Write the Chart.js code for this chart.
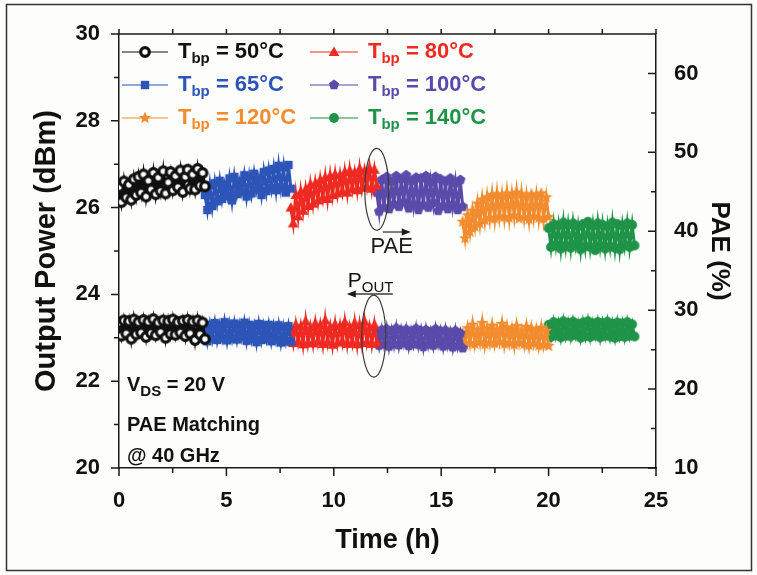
<!DOCTYPE html>
<html>
<head>
<meta charset="utf-8">
<script src="https://cdn.jsdelivr.net/npm/chart.js@4.4.1/dist/chart.umd.min.js"></script>
<style>
  html, body { margin: 0; padding: 0; background: #fdfdfb; }
  #wrap { width: 757px; height: 575px; position: relative; }
</style>
</head>
<body>
<div id="wrap"><canvas id="chart" width="757" height="575"></canvas></div>
<script>
// baseplate temperatures, one 4 h run each
const temps = ['50°C', '65°C', '80°C', '100°C', '120°C', '140°C'];
const segStart = [0, 4, 8, 12, 16, 20];
const hourOffsets = [0.00, 0.11, 0.23, 0.34, 0.46, 0.57, 0.69, 0.80, 0.91, 1.03, 1.14, 1.26,
                     1.37, 1.49, 1.60, 1.71, 1.83, 1.94, 2.06, 2.17, 2.29, 2.40, 2.51, 2.63,
                     2.74, 2.86, 2.97, 3.09, 3.20, 3.31, 3.43, 3.54, 3.66, 3.77, 3.89, 4.00];

// PAE (%) - right axis
const pae50  = [45.6, 43.7, 46.3, 44.3, 45.9, 44.0, 46.6, 44.6, 46.9, 44.9, 47.2, 44.4, 46.4, 45.3, 47.4, 44.7, 46.8, 45.1,
                47.6, 44.8, 46.2, 47.5, 45.2, 47.0, 45.6, 47.7, 45.0, 46.9, 47.8, 45.4, 47.2, 45.3, 47.9, 45.8, 47.4, 45.7];
const pae65  = [44.6, 42.7, 45.8, 43.2, 46.1, 43.8, 46.4, 44.1, 45.9, 44.5, 46.7, 43.9, 46.9, 44.7, 46.3, 45.0, 47.1, 44.4,
                46.9, 44.8, 47.3, 45.3, 46.7, 44.6, 47.5, 45.1, 47.7, 45.5, 47.9, 45.2, 48.3, 45.6, 48.1, 44.9, 48.4, 45.4];
const pae80  = [43.0, 41.0, 44.6, 41.9, 45.0, 42.6, 45.3, 43.2, 45.9, 43.5, 46.1, 43.9, 46.5, 44.3, 46.8, 44.1, 47.0, 44.6,
                47.2, 44.8, 47.1, 45.1, 47.5, 44.9, 47.7, 45.4, 47.4, 45.2, 47.9, 45.5, 47.6, 45.7, 48.0, 45.4, 47.8, 45.8];
const pae100 = [44.9, 42.5, 46.5, 43.0, 46.9, 42.8, 46.3, 43.4, 47.0, 43.1, 46.6, 43.7, 47.1, 42.9, 46.4, 43.5, 46.8, 42.7,
                46.7, 43.3, 47.0, 43.0, 46.2, 43.6, 46.9, 42.6, 46.6, 43.2, 46.3, 42.8, 46.7, 43.4, 46.1, 42.7, 46.5, 43.1];
const pae120 = [41.2, 39.1, 42.0, 39.9, 42.6, 40.6, 43.5, 41.0, 44.0, 41.4, 44.3, 41.7, 44.6, 41.6, 44.7, 41.9, 44.5, 41.8,
                44.8, 41.7, 44.6, 42.0, 44.9, 41.6, 44.7, 41.8, 44.4, 41.5, 44.7, 41.9, 44.5, 41.7, 44.8, 41.6, 44.3, 41.8];
const pae140 = [40.4, 38.0, 40.9, 38.3, 40.7, 37.8, 41.1, 38.2, 40.8, 37.9, 41.0, 38.4, 40.6, 37.7, 40.9, 38.1, 41.2, 38.0,
                40.7, 37.6, 41.0, 38.2, 40.8, 37.8, 40.6, 38.1, 41.1, 37.9, 40.9, 37.7, 40.7, 38.3, 41.0, 38.0, 40.8, 38.2];

// output power (dBm) - left axis
const pout50  = [23.35, 23.05, 23.40, 23.10, 23.38, 22.98, 23.42, 23.08, 23.36, 23.12, 23.41, 23.02, 23.37, 23.11, 23.43, 23.06, 23.35, 23.13,
                 23.40, 23.00, 23.38, 23.09, 23.42, 23.07, 23.36, 23.12, 23.39, 23.04, 23.41, 23.10, 23.37, 22.95, 23.40, 23.08, 23.35, 22.97];
const pout65  = [23.25, 22.92, 23.30, 22.98, 23.34, 22.95, 23.28, 23.00, 23.36, 22.94, 23.31, 22.99, 23.33, 22.96, 23.29, 23.02, 23.35, 22.93,
                 23.30, 22.97, 23.27, 22.90, 23.32, 22.95, 23.28, 22.98, 23.30, 22.92, 23.26, 22.96, 23.29, 22.89, 23.24, 22.93, 23.27, 22.91];
const pout80  = [23.20, 22.88, 23.30, 22.92, 23.26, 22.85, 23.38, 22.90, 23.24, 22.87, 23.33, 22.93, 23.28, 22.86, 23.40, 22.91, 23.25, 22.84,
                 23.31, 22.89, 23.27, 22.92, 23.36, 22.86, 23.23, 22.90, 23.34, 22.85, 23.29, 22.88, 23.37, 22.91, 23.24, 22.86, 23.30, 22.89];
const pout100 = [23.12, 22.82, 23.18, 22.86, 23.20, 22.80, 23.15, 22.85, 23.22, 22.83, 23.17, 22.88, 23.19, 22.81, 23.14, 22.86, 23.21, 22.84,
                 23.16, 22.79, 23.18, 22.85, 23.13, 22.82, 23.20, 22.87, 23.15, 22.80, 23.17, 22.84, 23.12, 22.78, 23.16, 22.82, 23.10, 22.76];
const pout120 = [23.10, 22.84, 23.22, 22.88, 23.30, 22.86, 23.18, 22.90, 23.34, 22.85, 23.21, 22.89, 23.28, 22.87, 23.19, 22.91, 23.32, 22.86,
                 23.24, 22.88, 23.20, 22.84, 23.27, 22.89, 23.17, 22.85, 23.25, 22.83, 23.21, 22.87, 23.18, 22.82, 23.23, 22.84, 23.16, 22.81];
const pout140 = [23.30, 23.02, 23.36, 23.06, 23.33, 23.01, 23.38, 23.05, 23.34, 23.03, 23.37, 23.07, 23.32, 23.00, 23.35, 23.04, 23.38, 23.02,
                 23.33, 23.06, 23.36, 23.01, 23.34, 23.05, 23.37, 23.03, 23.32, 23.00, 23.35, 23.04, 23.33, 23.02, 23.36, 23.05, 23.31, 23.03];

const paeSeries = [pae50, pae65, pae80, pae100, pae120, pae140];
const poutSeries = [pout50, pout65, pout80, pout100, pout120, pout140];

const xTicks = [0, 5, 10, 15, 20, 25];
const leftTicks = [20, 22, 24, 26, 28, 30];
const rightTicks = [10, 20, 30, 40, 50, 60];

// styles
const colors = ['#111111', '#2d55b8', '#ee2a22', '#5a4aaa', '#f28c2e', '#1f9448'];
const shapes = ['ring', 'square', 'triangle', 'pentagon', 'star', 'circle'];
const FONT = '"Liberation Sans", Arial, sans-serif';

function makeMarker(shape, color) {
    const c = document.createElement('canvas');
    c.width = 14; c.height = 14;
    const g = c.getContext('2d');
    const cx = 7, cy = 7;
    g.fillStyle = color;
    g.strokeStyle = color;
    g.beginPath();
    if (shape === 'ring') {
        g.arc(cx, cy, 4.3, 0, Math.PI * 2);
        g.fillStyle = '#ffffff';
        g.fill();
        g.lineWidth = 3.2;
        g.stroke();
        return c;
    } else if (shape === 'square') {
        g.rect(cx - 4.2, cy - 4.2, 8.4, 8.4);
    } else if (shape === 'triangle') {
        g.moveTo(cx, cy - 5.6);
        g.lineTo(cx + 5.4, cy + 4);
        g.lineTo(cx - 5.4, cy + 4);
        g.closePath();
    } else if (shape === 'pentagon') {
        for (let k = 0; k < 5; k++) {
            const a = -Math.PI / 2 + k * 2 * Math.PI / 5;
            const px = cx + 5.4 * Math.cos(a), py = cy + 5.4 * Math.sin(a);
            k === 0 ? g.moveTo(px, py) : g.lineTo(px, py);
        }
        g.closePath();
    } else if (shape === 'star') {
        for (let k = 0; k < 10; k++) {
            const a = -Math.PI / 2 + k * Math.PI / 5;
            const r = k % 2 === 0 ? 6.4 : 2.8;
            const px = cx + r * Math.cos(a), py = cy + r * Math.sin(a);
            k === 0 ? g.moveTo(px, py) : g.lineTo(px, py);
        }
        g.closePath();
    } else {
        g.arc(cx, cy, 4.9, 0, Math.PI * 2);
    }
    g.fill();
    return c;
}

const markers = shapes.map((s, i) => makeMarker(s, colors[i]));

const datasets = [];
temps.forEach((t, i) => {
    const common = {
        borderColor: colors[i],
        backgroundColor: colors[i],
        borderWidth: 3,
        pointStyle: markers[i],
        pointRadius: 5,
        tension: 0
    };
    datasets.push(Object.assign({
        label: 'PAE ' + t,
        yAxisID: 'y1',
        data: hourOffsets.map((h, k) => ({ x: segStart[i] + h, y: paeSeries[i][k] }))
    }, common));
    datasets.push(Object.assign({
        label: 'Pout ' + t,
        yAxisID: 'y',
        data: hourOffsets.map((h, k) => ({ x: segStart[i] + h, y: poutSeries[i][k] }))
    }, common));
});

// draws text with a subscript part: [main, sub, rest]
function subText(ctx, x, y, main, sub, rest, size, subSize, weight, color) {
    ctx.fillStyle = color;
    ctx.textBaseline = 'middle';
    ctx.textAlign = 'left';
    ctx.font = weight + ' ' + size + 'px ' + FONT;
    ctx.fillText(main, x, y);
    x += ctx.measureText(main).width;
    ctx.font = weight + ' ' + subSize + 'px ' + FONT;
    ctx.fillText(sub, x, y + size * 0.32);
    x += ctx.measureText(sub).width;
    ctx.font = weight + ' ' + size + 'px ' + FONT;
    ctx.fillText(rest, x, y);
}

function arrow(ctx, x1, y, x2) {
    const dir = Math.sign(x2 - x1);
    ctx.beginPath();
    ctx.moveTo(x1, y);
    ctx.lineTo(x2 - dir * 6, y);
    ctx.stroke();
    ctx.beginPath();
    ctx.moveTo(x2, y);
    ctx.lineTo(x2 - dir * 9, y - 3.5);
    ctx.lineTo(x2 - dir * 9, y + 3.5);
    ctx.closePath();
    ctx.fill();
}

const decor = {
    id: 'decor',
    afterDraw(chart) {
        const ctx = chart.ctx;
        const { x, y, y1 } = chart.scales;
        const a = chart.chartArea;
        ctx.save();
        ctx.strokeStyle = '#1a1a1a';
        ctx.lineWidth = 1.5;
        // frame top
        ctx.beginPath();
        ctx.moveTo(a.left, a.top);
        ctx.lineTo(a.right, a.top);
        ctx.stroke();
        // ticks
        ctx.beginPath();
        for (let v = 20; v <= 30; v += 1) {
            const py = y.getPixelForValue(v), len = v % 2 === 0 ? 8 : 5;
            ctx.moveTo(a.left, py); ctx.lineTo(a.left - len, py);
        }
        for (let v = 10; v <= 60; v += 5) {
            const py = y1.getPixelForValue(v), len = v % 10 === 0 ? 8 : 5;
            ctx.moveTo(a.right, py); ctx.lineTo(a.right - len, py);
        }
        for (let v = 0; v <= 25; v += 2.5) {
            const px = x.getPixelForValue(v), len = v % 5 === 0 ? 8 : 5;
            ctx.moveTo(px, a.bottom); ctx.lineTo(px, a.bottom + len);
            ctx.moveTo(px, a.top); ctx.lineTo(px, a.top - 5);
        }
        ctx.stroke();

        // legend
        const order = [0, 2, 1, 3, 4, 5];
        const colLine = [[122, 168], [310, 358]];
        const colText = [178, 368];
        const rowY = [52, 85, 118];
        order.forEach((ti, n) => {
            const col = n % 2, row = Math.floor(n / 2);
            const ly = rowY[row];
            ctx.strokeStyle = colors[ti];
            ctx.lineWidth = 1.2;
            ctx.beginPath();
            ctx.moveTo(colLine[col][0], ly); ctx.lineTo(colLine[col][1], ly);
            ctx.stroke();
            const mx = (colLine[col][0] + colLine[col][1]) / 2;
            ctx.drawImage(markers[ti], mx - 7, ly - 7);
            subText(ctx, colText[col], ly, 'T', 'bp', ' = ' + temps[ti], 22, 15, 'bold', colors[ti]);
        });

        // notes
        subText(ctx, 127, 385, 'V', 'DS', ' = 20 V', 20, 15, 'bold', '#111');
        ctx.font = 'bold 20px ' + FONT;
        ctx.fillText('PAE Matching', 127, 425);
        ctx.fillText('@ 40 GHz', 127, 456);

        // ellipses and arrows
        ctx.strokeStyle = '#3a3a3a';
        ctx.fillStyle = '#1a1a1a';
        ctx.lineWidth = 1.2;
        const ex = x.getPixelForValue(12);
        ctx.beginPath();
        ctx.ellipse(ex, y1.getPixelForValue(45.3), 12, 41, 0, 0, Math.PI * 2);
        ctx.stroke();
        ctx.beginPath();
        ctx.ellipse(ex - 3, y.getPixelForValue(23.04), 12, 41, 0, 0, Math.PI * 2);
        ctx.stroke();
        ctx.lineWidth = 1.3;
        arrow(ctx, ex + 6, 232, ex + 34);
        arrow(ctx, ex + 16, 294, ex - 30);
        ctx.textAlign = 'center';
        ctx.font = '22px ' + FONT;
        ctx.fillText('PAE', ex + 15, 247);
        subText(ctx, ex - 29, 281, 'P', 'OUT', '', 21, 15, 'normal', '#111');

        // outer frame
        ctx.strokeStyle = '#333';
        ctx.lineWidth = 1.5;
        ctx.strokeRect(6.5, 4.5, 745, 566);
        ctx.restore();
    }
};

const tickFont = { family: FONT, size: 22, weight: 'bold' };

new Chart(document.getElementById('chart'), {
    type: 'line',
    data: { datasets },
    options: {
        responsive: false,
        animation: false,
        events: [],
        layout: { padding: { top: 34, left: 0, right: 0, bottom: 0 } },
        plugins: { legend: { display: false }, tooltip: { enabled: false } },
        scales: {
            x: {
                type: 'linear', min: 0, max: 25,
                afterFit: s => { s.height = 107; },
                afterBuildTicks: s => { s.ticks = xTicks.map(v => ({ value: v })); },
                grid: { display: false },
                border: { display: true, color: '#1a1a1a', width: 1.5 },
                ticks: { font: tickFont, color: '#111', padding: 12, maxRotation: 0 },
                title: { display: true, text: 'Time (h)', color: '#111', font: { family: FONT, size: 27, weight: 'bold' }, padding: { bottom: 18 } }
            },
            y: {
                position: 'left', min: 20, max: 30,
                afterFit: s => { s.width = 119; },
                afterBuildTicks: s => { s.ticks = leftTicks.map(v => ({ value: v })); },
                grid: { display: false },
                border: { display: true, color: '#1a1a1a', width: 1.5 },
                ticks: { font: tickFont, color: '#111', padding: 11 },
                title: { display: true, text: 'Output Power (dBm)', color: '#111', font: { family: FONT, size: 29, weight: 'bold' }, padding: { top: 30 } }
            },
            y1: {
                position: 'right', min: 10, max: 65,
                afterFit: s => { s.width = 101; },
                afterBuildTicks: s => { s.ticks = rightTicks.map(v => ({ value: v })); },
                grid: { display: false },
                border: { display: true, color: '#1a1a1a', width: 1.5 },
                ticks: { font: tickFont, color: '#111', padding: 10 },
                title: { display: true, text: 'PAE (%)', color: '#111', font: { family: FONT, size: 26, weight: 'bold' }, padding: { top: 22 } }
            }
        }
    },
    plugins: [decor]
});
</script>
</body>
</html>
